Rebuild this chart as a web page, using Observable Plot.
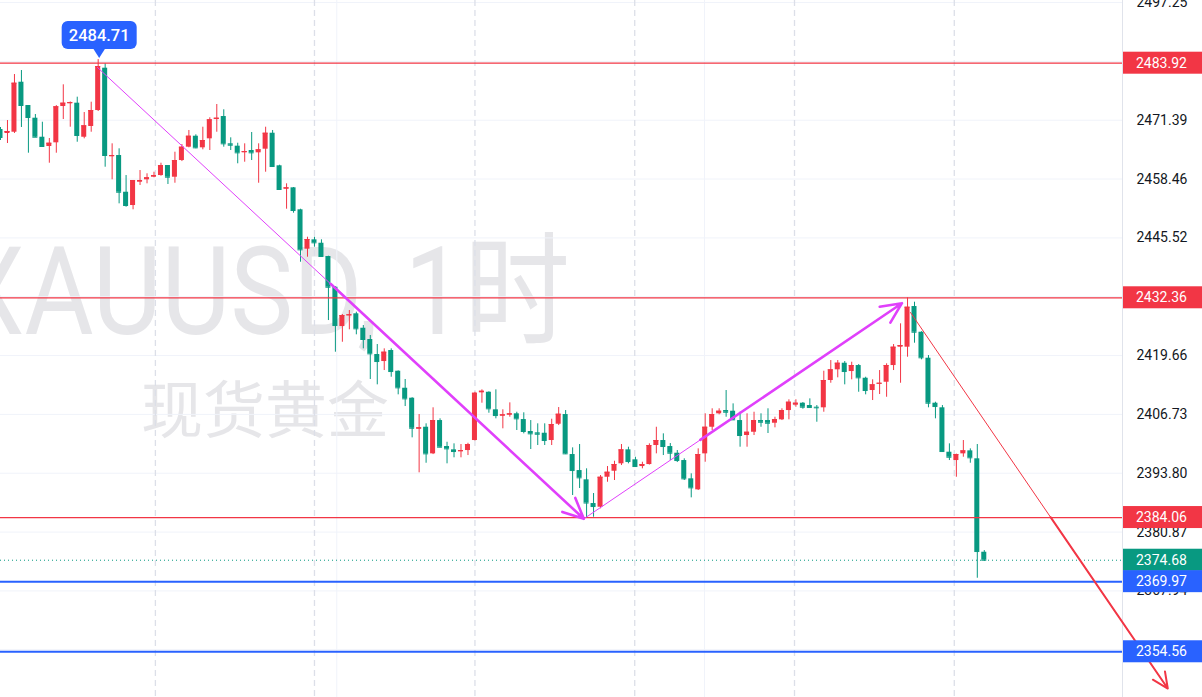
<!DOCTYPE html>
<html><head><meta charset="utf-8">
<script src="https://cdn.jsdelivr.net/npm/d3@7"></script>
<script src="https://cdn.jsdelivr.net/npm/@observablehq/plot@0.6"></script>
<style>
html,body{margin:0;padding:0;background:#fff;}
#chart{width:1202px;height:697px;overflow:hidden;position:relative;}
#chart svg{display:block;}
</style></head><body><div id="chart"></div>
<script>
// ---- candle data (1h XAUUSD), index 0..141 ----
const opens = [2469.35,2468.47,2468.75,2479.74,2474.62,2471.83,2467.65,2465.61,2466.42,2474.40,
2474.99,2475.13,2467.65,2470.01,2473.52,2482.82,2463.35,2463.63,2455.56,2452.64,
2457.76,2458.29,2458.86,2459.23,2461.43,2458.86,2462.53,2465.46,2467.87,2465.32,
2467.30,2471.54,2472.20,2466.20,2465.68,2464.22,2464.73,2464.22,2465.02,2468.53,
2461.37,2456.22,2456.53,2451.70,2443.04,2445.10,2444.35,2441.43,2434.68,2426.04,
2428.40,2428.84,2425.67,2423.19,2419.89,2418.35,2420.77,2416.22,2412.48,2410.29,
2403.47,2403.91,2398.06,2405.38,2399.67,2398.94,2398.50,2398.79,2400.99,2411.47,
2411.60,2407.74,2406.33,2406.55,2406.86,2405.60,2402.97,2402.68,2402.59,2400.99,
2404.57,2406.70,2397.91,2394.39,2392.35,2387.14,2386.33,2392.92,2394.24,2395.87,
2398.94,2396.75,2395.27,2395.71,2399.89,2400.99,2399.67,2398.20,2396.59,2392.57,
2390.15,2398.06,2403.91,2406.86,2407.58,2407.43,2405.38,2402.09,2402.81,2405.38,
2405.38,2404.79,2405.54,2407.58,2408.75,2409.19,2408.68,2408.31,2408.18,2414.18,
2416.53,2417.98,2416.15,2417.47,2414.68,2411.98,2413.36,2413.80,2417.47,2421.50,
2421.50,2430.44,2424.79,2419.08,2409.19,2408.18,2398.42,2396.59,2398.06,2398.72,
2396.97,2376.44];
const highs = [2469.79,2471.32,2481.43,2482.31,2474.62,2472.64,2470.95,2467.37,2474.60,2479.17,
2475.40,2476.45,2473.08,2475.35,2484.71,2483.79,2466.20,2465.10,2459.23,2458.14,
2460.33,2459.61,2459.96,2461.94,2461.43,2464.36,2466.05,2469.13,2468.18,2469.85,
2471.92,2474.84,2473.68,2467.52,2466.33,2466.20,2468.69,2466.20,2469.85,2469.13,
2461.50,2457.41,2456.60,2451.83,2445.67,2445.67,2445.10,2441.50,2434.80,2428.68,
2429.56,2429.19,2426.26,2424.07,2422.09,2421.14,2421.14,2416.30,2414.40,2410.40,
2406.70,2404.66,2408.18,2405.76,2400.61,2400.26,2400.11,2400.39,2411.60,2412.13,
2411.70,2412.13,2407.74,2409.27,2407.21,2407.08,2405.38,2404.66,2404.66,2405.67,
2408.24,2407.58,2399.38,2400.11,2394.77,2389.34,2393.30,2395.27,2396.44,2400.11,
2399.52,2397.32,2396.22,2400.26,2403.91,2402.46,2400.33,2398.79,2396.97,2393.67,
2399.16,2406.86,2407.96,2407.96,2411.98,2409.05,2407.21,2406.86,2407.21,2406.86,
2407.96,2406.11,2407.96,2409.94,2409.94,2409.34,2410.15,2408.68,2416.22,2418.57,
2418.57,2418.35,2418.20,2417.69,2414.90,2414.33,2416.37,2417.85,2422.09,2426.64,
2432.36,2431.39,2424.90,2419.67,2409.41,2408.68,2400.26,2398.00,2400.99,2399.16,
2400.11,2376.81];
const lows = [2466.93,2466.27,2468.47,2469.79,2464.14,2467.59,2465.46,2461.94,2464.14,2471.54,
2469.85,2466.55,2467.30,2468.75,2473.30,2461.06,2458.29,2453.01,2452.27,2451.70,
2457.04,2457.41,2458.73,2459.08,2457.26,2457.54,2462.30,2465.32,2465.10,2464.88,
2464.73,2468.75,2465.46,2464.73,2461.81,2462.16,2462.53,2457.54,2459.96,2461.06,
2456.00,2451.83,2450.95,2440.18,2441.28,2443.48,2441.28,2427.36,2420.40,2422.59,
2425.32,2424.22,2421.14,2414.40,2413.23,2416.37,2414.90,2411.03,2408.46,2401.58,
2393.89,2396.00,2397.90,2399.40,2395.87,2397.19,2397.19,2397.69,2400.90,2409.19,
2406.99,2405.76,2403.56,2406.11,2403.19,2402.46,2399.01,2399.89,2399.89,2399.89,
2404.28,2397.90,2388.90,2390.44,2384.06,2384.13,2385.98,2391.82,2392.20,2395.49,
2395.87,2395.12,2394.77,2395.60,2398.06,2397.69,2396.59,2396.15,2392.20,2388.39,
2390.00,2396.22,2403.19,2406.64,2406.11,2405.38,2399.52,2399.52,2402.09,2403.91,
2402.53,2403.78,2405.38,2405.54,2408.31,2407.87,2408.18,2405.01,2407.21,2413.58,
2414.77,2413.23,2414.33,2411.60,2411.03,2409.78,2411.10,2410.50,2416.37,2413.58,
2419.30,2422.38,2418.73,2408.18,2405.76,2398.40,2396.59,2392.92,2397.32,2396.00,
2370.72,2374.50];
const closes = [2467.59,2468.91,2479.52,2474.62,2471.98,2467.65,2465.61,2466.33,2474.34,2475.13,
2475.28,2468.03,2470.16,2473.52,2483.19,2463.63,2463.63,2455.56,2452.64,2458.14,
2458.14,2458.73,2459.23,2461.43,2458.86,2462.53,2465.46,2467.87,2465.32,2466.93,
2471.48,2471.83,2466.20,2465.89,2464.22,2464.51,2464.22,2464.88,2468.53,2461.21,
2456.16,2456.53,2451.54,2442.90,2445.17,2444.44,2441.43,2434.68,2426.26,2428.46,
2428.62,2425.54,2423.19,2420.04,2418.35,2420.40,2416.15,2412.57,2410.15,2403.69,
2403.78,2398.06,2405.38,2399.52,2399.16,2398.57,2398.79,2400.11,2411.38,2411.82,
2407.96,2406.48,2406.64,2406.86,2405.76,2402.97,2402.46,2402.37,2400.99,2404.50,
2406.77,2398.06,2394.39,2392.79,2387.25,2386.48,2392.92,2394.02,2395.71,2398.94,
2396.37,2395.27,2395.71,2399.89,2400.99,2399.67,2398.20,2396.59,2392.57,2390.59,
2397.91,2403.91,2406.70,2407.43,2407.21,2405.54,2402.09,2402.81,2405.38,2405.01,
2404.79,2405.60,2407.58,2409.41,2409.19,2408.31,2408.24,2408.18,2414.18,2416.53,
2417.98,2416.15,2417.47,2414.77,2411.98,2413.23,2413.58,2417.47,2421.50,2421.87,
2430.29,2424.79,2419.17,2409.19,2408.46,2398.57,2397.32,2397.91,2398.72,2397.19,
2376.59,2374.68];

// ---- axis / levels / annotations ----
const yTicks = [2497.25,2484.32,2471.39,2458.46,2445.52,2432.59,2419.66,2406.73,2393.80,2380.87,2367.94,2355.01];
const redLevels = [2483.92,2432.36,2384.06];
const blueLevels = [2369.97,2354.56];
const lastPrice = 2374.68;
const peakIndex = 14, peakPrice = 2484.71;
const sessionBreaks = [22.2,45.0,68.0,90.9,113.8,136.7];
const gridX = [48.2,100.9];
// trend lines as [index, price] pairs
const magentaThin = [{x1:13.86,y1:2483.04,x2:83.6,y2:2383.78},{x1:83.6,y1:2383.78,x2:129.2,y2:2431.17}];
const magentaArrows = [{x1:47.3,y1:2435.44,x2:83.6,y2:2383.78},{x1:100.3,y1:2401.13,x2:129.2,y2:2431.17}];
const redThin = [{x1:130.4,y1:2429.19,x2:167.3,y2:2346.48}];
const redArrow = [{x1:150.5,y1:2384.14,x2:167.3,y2:2346.48}];

const UP = "#f23645", DOWN = "#089981", BLUE = "#2962ff", MAG = "#e040fb";
const candles = opens.map((o,i)=>({i, o, h:highs[i], l:lows[i], c:closes[i], up: closes[i] >= o}));
const col = d => d.up ? UP : DOWN;
const bw = 0.36;

const plot = Plot.plot({
  width: 1202, height: 697,
  marginLeft: 0, marginRight: 80, marginTop: 0, marginBottom: 0,
  style: {fontFamily: "Roboto, 'Liberation Sans', sans-serif", fontSize: "14px", color: "#131722", background: "#fff"},
  x: {domain: [0, 160.81], axis: null},
  y: {domain: [2344.51, 2497.70], axis: "right", ticks: yTicks, tickFormat: d => d.toFixed(2), tickSize: 0, tickPadding: 14, label: null},
  marks: [
    Plot.ruleY(yTicks, {stroke: "#f0f3fa", strokeWidth: 1}),
    Plot.ruleX(gridX, {stroke: "#f0f3fa", strokeWidth: 1}),
    Plot.ruleX(sessionBreaks, {stroke: "#dcdfe8", strokeWidth: 1.3, strokeDasharray: "6,4"}),
    Plot.frame({anchor: "right", stroke: "#e0e3eb"}),
    Plot.ruleX(candles, {x: "i", y1: "l", y2: "h", stroke: col, strokeWidth: 1}),
    Plot.rect(candles, {x1: d => d.i - bw, x2: d => d.i + bw, y1: "o", y2: "c", fill: col}),
    Plot.ruleY(candles, {x1: d => d.i - bw, x2: d => d.i + bw, y: "c", stroke: col, strokeWidth: 1}),
    Plot.ruleY(redLevels, {stroke: UP, strokeWidth: 1.2}),
    Plot.ruleY([lastPrice], {stroke: DOWN, strokeWidth: 1, strokeDasharray: "1,3"}),
    Plot.ruleY(blueLevels, {stroke: BLUE, strokeWidth: 2}),
    Plot.link(magentaThin, {x1:"x1", y1:"y1", x2:"x2", y2:"y2", stroke: MAG, strokeWidth: 1}),
    Plot.arrow(magentaArrows, {x1:"x1", y1:"y1", x2:"x2", y2:"y2", stroke: MAG, strokeWidth: 2.6, headLength: 13, headAngle: 50}),
    Plot.link(redThin, {x1:"x1", y1:"y1", x2:"x2", y2:"y2", stroke: UP, strokeWidth: 1}),
    Plot.arrow(redArrow, {x1:"x1", y1:"y1", x2:"x2", y2:"y2", stroke: UP, strokeWidth: 2, headLength: 13, headAngle: 50})
  ]
});

const xs = plot.scale("x"), ys = plot.scale("y");
const svg = d3.select(plot);

// watermark (behind everything)
const wm = svg.insert("g", "g").attr("fill", "#e6e6e9").attr("text-anchor", "start");
wm.append("text").attr("x", -42).attr("y", 334).attr("text-anchor", "start")
  .attr("font-family", "Roboto, 'Noto Sans CJK SC', sans-serif").attr("font-size", 122)
  .attr("textLength", 612).attr("lengthAdjust", "spacingAndGlyphs")
  .text("XAUUSD, 1时");
wm.append("text").attr("x", 141).attr("y", 433).attr("text-anchor", "start")
  .attr("font-family", "'Noto Sans CJK SC', sans-serif").attr("font-size", 62)
  .text("现货黄金");

// price labels on the right axis
const labels = [
  ...redLevels.map(v => ({v, fill: UP})),
  {v: lastPrice, fill: DOWN},
  ...blueLevels.map(v => ({v, fill: BLUE}))
];
const lg = svg.append("g").attr("text-anchor", "start");
for (const L of labels) {
  const yy = ys.apply(L.v);
  lg.append("rect").attr("x", 1123).attr("y", yy - 11).attr("width", 79).attr("height", 22).attr("fill", L.fill);
  lg.append("text").attr("x", 1136).attr("y", yy).attr("dy", "0.36em").attr("fill", "#fff").attr("text-anchor", "start")
    .attr("font-family", "Roboto, sans-serif").attr("font-size", 14).text(L.v.toFixed(2));
}

// peak callout
const px = xs.apply(peakIndex) + 1.5, py = ys.apply(peakPrice) - 1;
const cg = svg.append("g");
cg.append("rect").attr("x", px - 37.5).attr("y", py - 37).attr("width", 75).attr("height", 28).attr("rx", 6).attr("fill", BLUE);
cg.append("path").attr("d", `M${px-6},${py-9.5}L${px},${py}L${px+6},${py-9.5}Z`).attr("fill", BLUE);
cg.append("text").attr("x", px).attr("y", py - 23).attr("dy", "0.36em").attr("text-anchor", "middle")
  .attr("fill", "#fff").attr("font-family", "Roboto, sans-serif").attr("font-weight", 500).attr("font-size", 16.5).text(peakPrice.toFixed(2));

document.getElementById("chart").appendChild(plot);
</script>
</body></html>
